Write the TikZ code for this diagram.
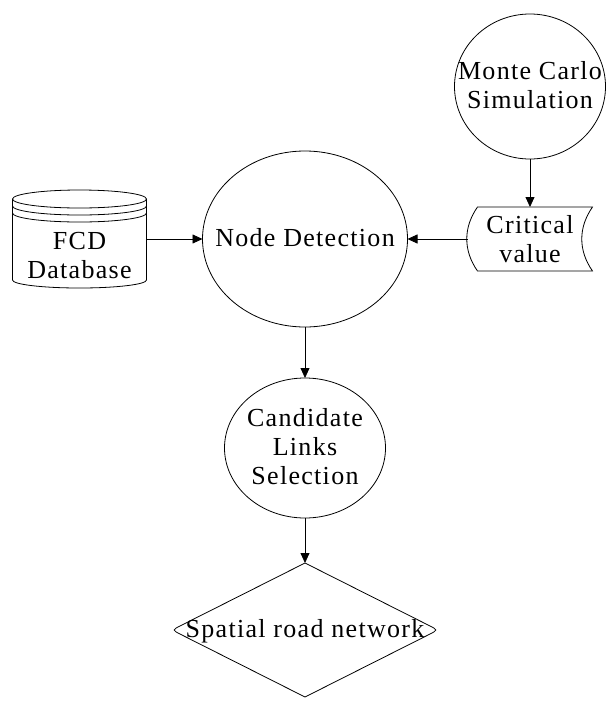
\documentclass[tikz,border=0pt]{standalone}
\usepackage{fontspec}
\setmainfont{Liberation Serif}[LetterSpace=5]
\usetikzlibrary{positioning, arrows.meta, calc, shapes.geometric}
\newcommand{\flatbox}[2][-8pt]{\raisebox{#1}[0pt][0pt]{\makebox[0pt]{\begin{tabular}{@{}c@{}}#2\end{tabular}}}}

\begin{document}
\begin{tikzpicture}[
    x=1pt, y=1pt,
    line width=0.8pt,
    every node/.style={align=center, font=\fontsize{26}{29}\selectfont, inner sep=0pt, outer sep=0pt},
    proc/.style={ellipse, draw},
    store/.style={rectangle},
    result/.style={diamond},
    flow/.style={-{Triangle[length=10pt, width=9pt]}}
]
\useasboundingbox (0,0) rectangle (606,-702);

% nodes
\node[proc, minimum width=205pt, minimum height=176pt] (det) at (305,-239) {\flatbox{Node Detection}};
\node[proc, minimum width=161pt, minimum height=140pt, below=51pt of det] (cand) {\flatbox{Candidate\\Links\\Selection}};
\node[store, minimum width=134pt, minimum height=98pt, left=56pt of det] (fcd) {\flatbox[-25pt]{FCD\\Database}};
\node[store, minimum width=125pt, minimum height=64pt, right=60pt of det] (crit) {\flatbox[-9pt]{Critical\\value}};
\node[proc, minimum width=151pt, minimum height=145pt, above=48pt of crit] (mc) {\flatbox{Monte Carlo\\Simulation}};
\node[result, minimum width=266pt, minimum height=134pt, below=45pt of cand] (net) {\flatbox{Spatial road network}};

% database cylinder
\draw ($(fcd.north)+(0,-9)$) ellipse[x radius=67, y radius=9];
\foreach \dy in {7,14}
    \draw ($(fcd.north west)+(0,-9-\dy)$) arc[start angle=180, end angle=360, x radius=67, y radius=9];
\draw ($(fcd.north west)+(0,-9)$) -- ($(fcd.south west)+(0,8)$)
    arc[start angle=180, end angle=360, x radius=67, y radius=8] -- ($(fcd.north east)+(0,-9)$);

% stored value
\draw ($(crit.north west)+(10,0)$) -- (crit.north east)
    to[bend right=35] (crit.south east)
    -- ($(crit.south west)+(10,0)$)
    to[bend left=35] ($(crit.north west)+(10,0)$) -- cycle;

% output
\draw (net.north) -- ($(net.east)!10pt!(net.north)$) .. controls (net.east) .. ($(net.east)!10pt!(net.south)$)
    -- (net.south) -- ($(net.west)!10pt!(net.south)$) .. controls (net.west) .. ($(net.west)!10pt!(net.north)$) -- cycle;

% flow
\draw[flow] (mc) -- (crit);
\draw[flow] (fcd) -- (det);
\draw[flow] (crit) -- (det);
\draw[flow] (det) -- (cand);
\draw[flow] (cand) -- (net);

\end{tikzpicture}
\end{document}
